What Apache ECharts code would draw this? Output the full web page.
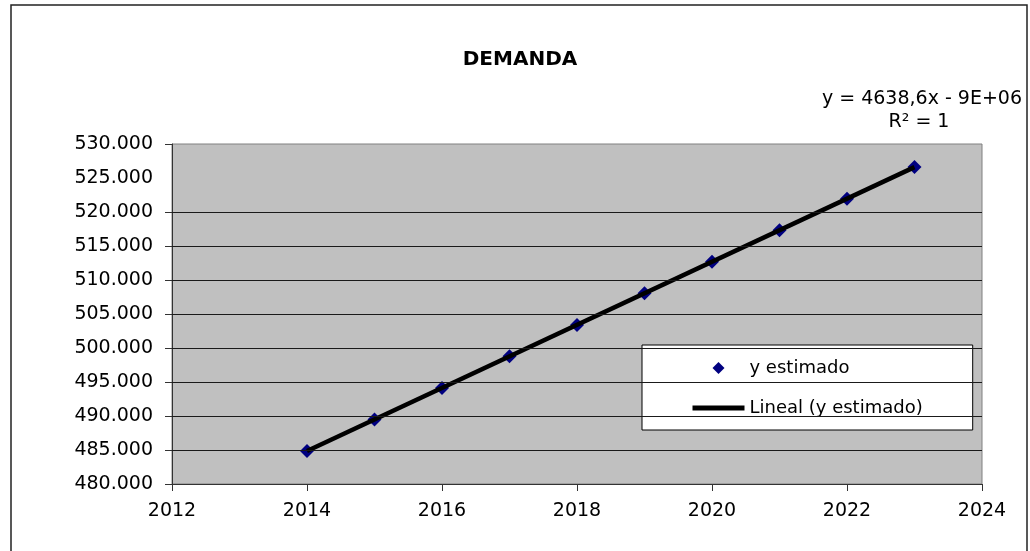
<!DOCTYPE html>
<html>
<head>
<meta charset="utf-8">
<title>DEMANDA</title>
<script src="https://cdn.jsdelivr.net/npm/echarts@6/dist/echarts.min.js"></script>
<style>
  html, body { margin: 0; padding: 0; background: #fff; }
  #chart { width: 1030px; height: 551px; }
</style>
</head>
<body>
<div id="chart"></div>
<script>
// datos
const years = [2014, 2015, 2016, 2017, 2018, 2019, 2020, 2021, 2022, 2023]
const yEstimado = [484850, 489490, 494130, 498770, 503400, 508040, 512680, 517320, 521960, 526600]
// línea de tendencia (extremos)
const trendYears = [2014, 2023]
const trendValues = [484850, 526600]
// líneas de la cuadrícula (la de 525.000 no aparece en el original)
const gridValues = [485000, 490000, 495000, 500000, 505000, 510000, 515000, 520000]
const tickValues = [480000, 485000, 490000, 495000, 500000, 505000, 510000, 515000, 520000, 530000]

const font = 'DejaVu Sans'
// rombo como path para que la leyenda no lo estire
const diamond = 'path://M1,0 L2,1 L1,2 L0,1 Z'

const chart = echarts.init(document.getElementById('chart'))

// formato 530.000
const fmtMiles = v => String(v).replace(/\B(?=(\d{3})+(?!\d))/g, '.')

const option = {
  backgroundColor: '#fff',
  animation: false,
  title: [
    {
      text: 'DEMANDA',
      left: 515,
      textAlign: 'center',
      top: 45,
      textStyle: { fontFamily: font, fontSize: 20, fontWeight: 'bold', color: '#000' }
    },
    {
      text: 'y = 4638,6x - 9E+06',
      right: 8,
      top: 90,
      padding: 0,
      textStyle: { fontFamily: font, fontSize: 19, fontWeight: 'normal', color: '#000' }
    },
    {
      text: 'R² = 1',
      left: 919,
      textAlign: 'center',
      top: 113,
      padding: 0,
      textStyle: { fontFamily: font, fontSize: 19, fontWeight: 'normal', color: '#000' }
    }
  ],
  legend: {
    orient: 'vertical',
    left: 642,
    top: 345,
    padding: [14, 50, 13, 48],
    itemGap: 22,
    itemWidth: 52,
    itemHeight: 12,
    symbolKeepAspect: true,
    backgroundColor: '#fff',
    borderColor: '#000',
    borderWidth: 1,
    borderRadius: 0,
    textStyle: { fontFamily: font, fontSize: 18, color: '#000' },
    data: [
      { name: 'y estimado', icon: diamond },
      { name: 'Lineal (y estimado)', lineStyle: { width: 5 } }
    ]
  },
  grid: {
    left: 172,
    right: 48,
    top: 144,
    bottom: 67,
    show: true,
    backgroundColor: '#c0c0c0',
    borderColor: '#808080',
    borderWidth: 1
  },
  xAxis: {
    type: 'value',
    min: 2012,
    max: 2024,
    interval: 2,
    axisLine: { show: true, lineStyle: { color: '#333', width: 1 } },
    axisTick: { show: true, length: 7, lineStyle: { color: '#333' } },
    axisLabel: { margin: 18, fontFamily: font, fontSize: 19, color: '#000', formatter: v => String(v) },
    splitLine: { show: false }
  },
  yAxis: {
    type: 'value',
    min: 480000,
    max: 530000,
    interval: 5000,
    axisLine: { show: true, lineStyle: { color: '#333', width: 1 } },
    axisTick: { show: true, length: 7, customValues: tickValues, lineStyle: { color: '#333' } },
    axisLabel: {
      margin: 19,
      fontFamily: font,
      fontSize: 19,
      color: '#000',
      formatter: fmtMiles
    },
    splitLine: { show: false }
  },
  series: [
    {
      // cuadrícula
      type: 'line',
      data: [],
      silent: true,
      z: 1,
      markLine: {
        silent: true,
        symbol: 'none',
        label: { show: false },
        lineStyle: { color: '#1a1a1a', width: 1, type: 'solid' },
        data: gridValues.map(v => ({ yAxis: v }))
      }
    },
    {
      name: 'y estimado',
      type: 'scatter',
      data: years.map((y, i) => [y, yEstimado[i]]),
      symbol: diamond,
      symbolSize: 14,
      itemStyle: { color: '#000080', opacity: 1 },
      z: 3
    },
    {
      name: 'Lineal (y estimado)',
      type: 'line',
      data: trendYears.map((y, i) => [y, trendValues[i]]),
      symbol: 'none',
      lineStyle: { color: '#000', width: 4.5 },
      itemStyle: { color: 'rgba(0,0,0,0)' },
      z: 4
    }
  ],
  graphic: [
    {
      // marco exterior
      type: 'rect',
      silent: true,
      shape: { x: 11, y: 5, width: 1016, height: 600 },
      style: { fill: 'none', stroke: '#222', lineWidth: 1.5 }
    }
  ]
}

chart.setOption(option)
</script>
</body>
</html>
